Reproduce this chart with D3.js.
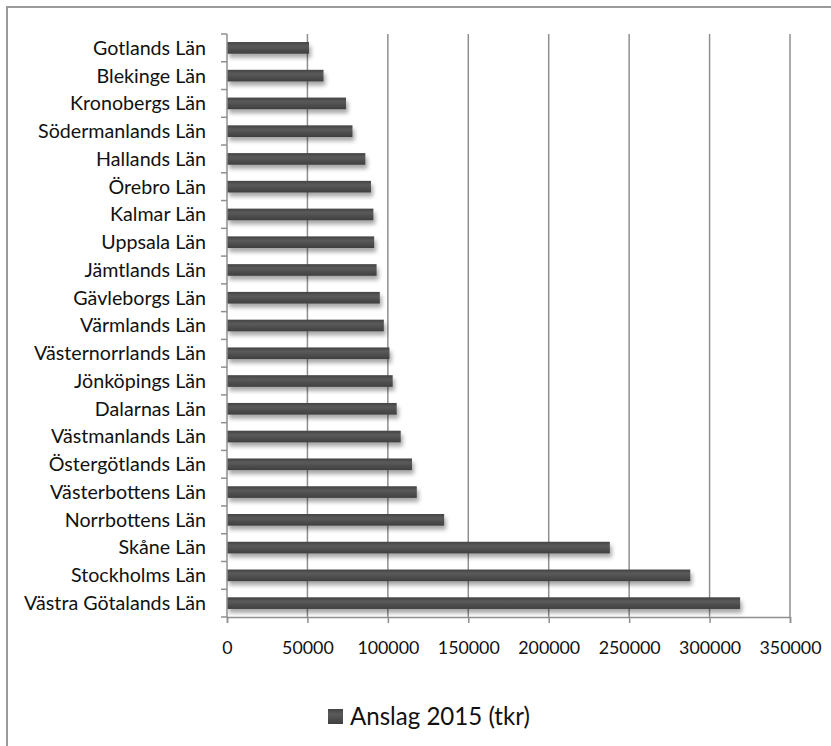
<!DOCTYPE html>
<html>
<head>
<meta charset="utf-8">
<script src="https://cdn.jsdelivr.net/npm/d3@7"></script>
<style>
  html, body { margin: 0; padding: 0; background: #fff; }
  svg { display: block; }
  text { font-family: Lato, "Open Sans", sans-serif; fill: #111; }
</style>
</head>
<body>
<svg id="chart" width="831" height="746"></svg>
<script>
// Regional allocations 2015, thousands of SEK (top to bottom)
const categories = [
  "Gotlands Län", "Blekinge Län", "Kronobergs Län", "Södermanlands Län",
  "Hallands Län", "Örebro Län", "Kalmar Län", "Uppsala Län", "Jämtlands Län",
  "Gävleborgs Län", "Värmlands Län", "Västernorrlands Län", "Jönköpings Län",
  "Dalarnas Län", "Västmanlands Län", "Östergötlands Län", "Västerbottens Län",
  "Norrbottens Län", "Skåne Län", "Stockholms Län", "Västra Götalands Län"
];
const values = [
  51000, 60000, 74000, 78000, 86000, 89500, 91000, 91500, 93000,
  95000, 97500, 101000, 103000, 105500, 108000, 115000, 118000,
  135000, 238000, 288000, 319000
];
const tickValues = [0, 50000, 100000, 150000, 200000, 250000, 300000, 350000];
const seriesName = "Anslag 2015 (tkr)";

const svg = d3.select("#chart");

// font size that makes `str` render `target` px wide
function fitSize(str, target) {
  const t = svg.append("text").attr("font-size", 100).text(str);
  const w = t.node().getComputedTextLength();
  t.remove();
  return 100 * target / w;
}
const labelSize = fitSize("Västra Götalands Län", 182);
const tickSize = fitSize("350000", 62);
const legendSize = fitSize(seriesName, 180);

// outer frame (runs past the right and bottom edges)
svg.append("rect")
  .attr("x", 7).attr("y", 7)
  .attr("width", 900).attr("height", 900)
  .attr("fill", "none").attr("stroke", "#9a9a9a").attr("stroke-width", 2);

const plot = { left: 227, right: 790, top: 34, bottom: 617 };

const x = d3.scaleLinear().domain([0, 350000]).range([plot.left, plot.right]);
const y = d3.scaleBand().domain(categories).range([plot.top, plot.bottom]);

const defs = svg.append("defs");
const grad = defs.append("linearGradient").attr("id", "barGrad")
  .attr("x1", 0).attr("y1", 0).attr("x2", 0).attr("y2", 1);
grad.append("stop").attr("offset", "0%").attr("stop-color", "#444");
grad.append("stop").attr("offset", "35%").attr("stop-color", "#5a5a5a");
grad.append("stop").attr("offset", "100%").attr("stop-color", "#3f3f3f");

const shadow = defs.append("filter").attr("id", "shadow")
  .attr("x", "-5%").attr("y", "-50%").attr("width", "115%").attr("height", "250%");
shadow.append("feGaussianBlur").attr("in", "SourceAlpha").attr("stdDeviation", 2.2).attr("result", "b");
shadow.append("feOffset").attr("in", "b").attr("dx", 2).attr("dy", 4).attr("result", "o");
shadow.append("feComponentTransfer").attr("in", "o").attr("result", "s")
  .append("feFuncA").attr("type", "linear").attr("slope", 0.35);
const merge = shadow.append("feMerge");
merge.append("feMergeNode").attr("in", "s");
merge.append("feMergeNode").attr("in", "SourceGraphic");

// vertical gridlines
svg.append("g").selectAll("line")
  .data(tickValues.slice(1))
  .join("line")
  .attr("x1", d => x(d)).attr("x2", d => x(d))
  .attr("y1", plot.top).attr("y2", plot.bottom)
  .attr("stroke", "#8f8f8f").attr("stroke-width", 1.5);

// bars
const barH = y.bandwidth() * 0.42;
svg.append("g").selectAll("rect")
  .data(categories)
  .join("rect")
  .attr("x", x(0))
  .attr("y", (d) => y(d) + (y.bandwidth() - barH) / 2)
  .attr("width", (d, i) => x(values[i]) - x(0))
  .attr("height", barH)
  .attr("fill", "url(#barGrad)")
  .attr("filter", "url(#shadow)");

// x axis
const xAxis = svg.append("g")
  .attr("transform", `translate(0,${plot.bottom})`)
  .call(d3.axisBottom(x).tickValues(tickValues).tickFormat(d3.format("d")).tickSize(6).tickPadding(18));
xAxis.select(".domain").attr("stroke", "#8f8f8f").attr("stroke-width", 1.5);
xAxis.selectAll(".tick line").attr("stroke", "#8f8f8f").attr("stroke-width", 1.5);
xAxis.selectAll(".tick text").attr("font-size", tickSize).attr("font-family", "Lato, sans-serif").attr("fill", "#111");

// y axis with ticks on band boundaries
const yAxis = svg.append("g").attr("transform", `translate(${plot.left},0)`);
yAxis.append("line")
  .attr("x1", 0).attr("x2", 0).attr("y1", plot.top).attr("y2", plot.bottom)
  .attr("stroke", "#8f8f8f").attr("stroke-width", 1.5);
const bounds = categories.map(c => y(c)).concat([plot.bottom]);
yAxis.selectAll("line.tk")
  .data(bounds)
  .join("line").attr("class", "tk")
  .attr("x1", -6).attr("x2", 0)
  .attr("y1", d => d).attr("y2", d => d)
  .attr("stroke", "#8f8f8f").attr("stroke-width", 1.5);
yAxis.selectAll("text")
  .data(categories)
  .join("text")
  .attr("x", -21)
  .attr("y", d => y(d) + y.bandwidth() / 2)
  .attr("dy", "0.35em")
  .attr("text-anchor", "end")
  .attr("font-size", labelSize)
  .text(d => d);

// legend
const legend = svg.append("g").attr("transform", "translate(328,709)");
legend.append("rect").attr("width", 15).attr("height", 15).attr("fill", "url(#barGrad)");
legend.append("text").attr("x", 22).attr("y", 7.5).attr("dy", "0.36em")
  .attr("font-size", legendSize).text(seriesName);
</script>
</body>
</html>
